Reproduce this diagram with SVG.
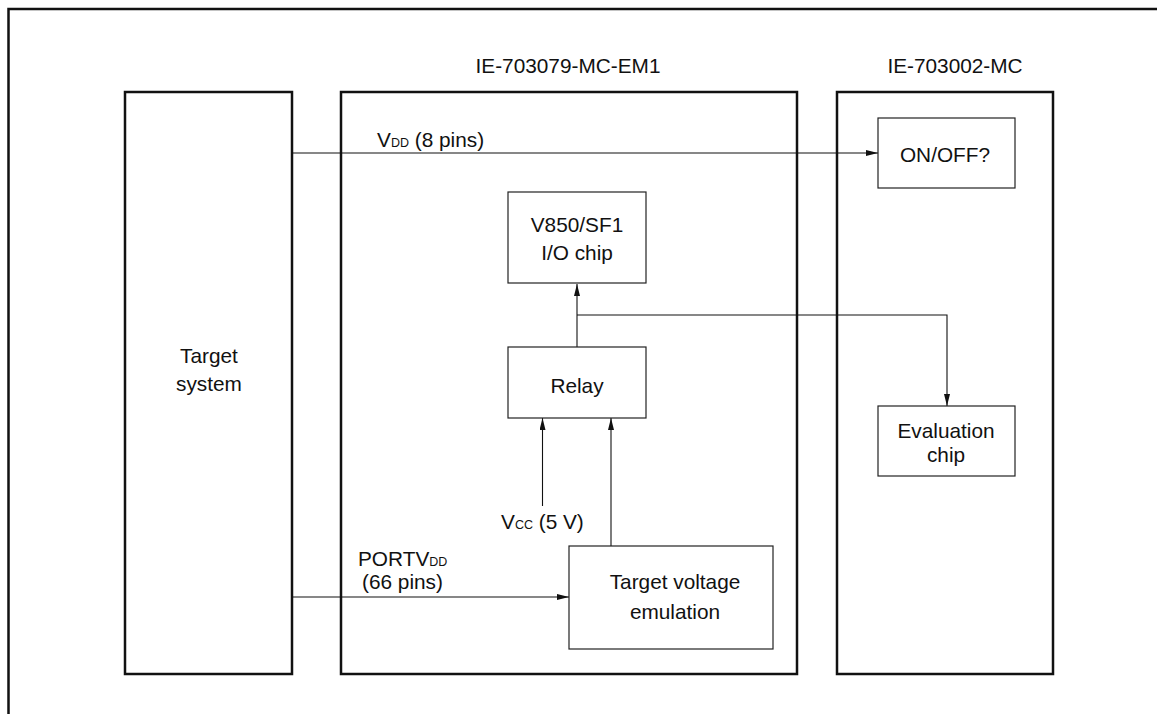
<svg xmlns="http://www.w3.org/2000/svg" width="1157" height="714" viewBox="0 0 1157 714">
<defs>
<marker id="arr" markerWidth="12" markerHeight="6" refX="12" refY="3" orient="auto" markerUnits="userSpaceOnUse">
<path d="M0,0 L12,3 L0,6 Z" fill="#111"/>
</marker>
<style>
.t{font-family:"Liberation Sans",Arial,Helvetica,sans-serif;font-size:20.8px;fill:#111;}
.m{text-anchor:middle;}
.s{font-size:12.5px;}
.big{fill:none;stroke:#111;stroke-width:2.5;}
.box{fill:#fff;stroke:#222;stroke-width:1.2;}
.c{fill:none;stroke:#111;stroke-width:1.1;}
</style>
</defs>
<rect width="1157" height="714" fill="#fff"/>
<g id="frame"><path class="big" d="M8.5,714 V9 H1157"/></g>

<g id="target-system">
<rect class="big" x="125" y="92" width="167" height="582"/>
<text class="t m" x="209" y="363">Target</text>
<text class="t m" x="209" y="391">system</text>
</g>

<g id="em1">
<rect class="big" x="341" y="92" width="456" height="582"/>
<text class="t m" x="568" y="73">IE-703079-MC-EM1</text>
</g>

<g id="mc">
<rect class="big" x="837" y="92" width="216" height="582"/>
<text class="t m" x="955" y="73">IE-703002-MC</text>
</g>

<g id="connectors">
<line class="c" x1="292" y1="153" x2="878" y2="153" marker-end="url(#arr)"/>
<line class="c" x1="292" y1="597" x2="569" y2="597" marker-end="url(#arr)"/>
<line class="c" x1="577" y1="347" x2="577" y2="284" marker-end="url(#arr)"/>
<path class="c" d="M577,315 H947 V406" marker-end="url(#arr)"/>
<line class="c" x1="542.5" y1="506" x2="542.5" y2="418" marker-end="url(#arr)"/>
<line class="c" x1="611" y1="546" x2="611" y2="418" marker-end="url(#arr)"/>
<text class="t" x="377" y="147">V<tspan class="s">DD</tspan> (8 pins)</text>
<text class="t" x="358" y="566">PORTV<tspan class="s">DD</tspan></text>
<text class="t" x="362" y="589">(66 pins)</text>
<text class="t" x="501" y="529">V<tspan class="s">CC</tspan> (5 V)</text>
</g>

<g id="onoff">
<rect class="box" x="878" y="118" width="137" height="70"/>
<text class="t m" x="945" y="162">ON/OFF?</text>
</g>

<g id="v850">
<rect class="box" x="508" y="192" width="138" height="91"/>
<text class="t m" x="577" y="232">V850/SF1</text>
<text class="t m" x="577" y="260">I/O chip</text>
</g>

<g id="relay">
<rect class="box" x="508" y="347" width="138" height="71"/>
<text class="t m" x="577" y="393">Relay</text>
</g>

<g id="evaluation">
<rect class="box" x="878" y="406" width="137" height="70"/>
<text class="t m" x="946" y="438">Evaluation</text>
<text class="t m" x="946" y="462">chip</text>
</g>

<g id="tve">
<rect class="box" x="569" y="546" width="204" height="103"/>
<text class="t m" x="675" y="589">Target voltage</text>
<text class="t m" x="675" y="619">emulation</text>
</g>
</svg>
